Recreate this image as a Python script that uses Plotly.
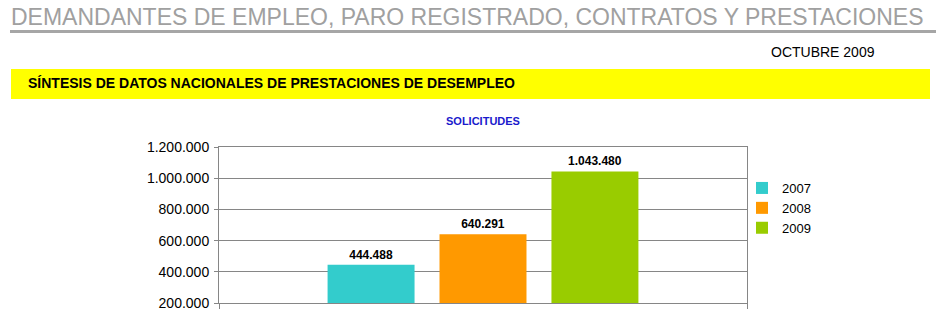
import plotly.graph_objects as go

# ---- data ----
category = ["SOLICITUDES"]
years = ["2007", "2008", "2009"]
values = [444488, 640291, 1043480]
colors = ["#33CCCC", "#FF9900", "#99CC00"]
y_ticks = [200000, 400000, 600000, 800000, 1000000, 1200000]

W, H = 941, 318
PL, PR, PT, PB = 219, 747, 147, 303  # plot area in pixels


def px(x):
    return (x - PL) / (PR - PL)


def py(y):
    return (PB - y) / (PB - PT)


fig = go.Figure()
for yr, v, c in zip(years, values, colors):
    fig.add_trace(go.Bar(
        x=category, y=[v], name=yr, marker=dict(color=c, line=dict(width=0)),
        texttemplate="%{y:,d}", textposition="outside", cliponaxis=False,
        textfont=dict(family="Liberation Sans, Arial", size=12, color="#000000", weight="bold"),
    ))

GRAY = "#868686"
fig.update_layout(
    width=W, height=H,
    margin=dict(l=PL, r=W - PR, t=PT, b=H - PB, pad=0, autoexpand=False),
    paper_bgcolor="white", plot_bgcolor="white",
    separators=",.",
    barmode="group", bargap=0.364, bargroupgap=0.223,
    font=dict(family="Liberation Sans, Arial", color="#000000"),
    showlegend=True,
    legend=dict(x=px(742), xanchor="left", y=py(173), yanchor="top",
                font=dict(size=13, color="#000000"), bgcolor="rgba(0,0,0,0)",
                itemclick=False, tracegroupgap=0),
    xaxis=dict(showticklabels=False, showgrid=False, showline=True, linecolor=GRAY,
               linewidth=1, mirror=True, ticks="outside", tickson="boundaries",
               ticklen=5, tickcolor=GRAY, zeroline=False),
    yaxis=dict(range=[200000, 1200000], tickvals=y_ticks, tickformat=",d",
               showgrid=True, gridcolor=GRAY, gridwidth=1, showline=True,
               linecolor=GRAY, linewidth=1, mirror=True, ticks="outside",
               ticklen=4, tickcolor=GRAY, zeroline=False,
               tickfont=dict(size=14, color="#000000"), ticklabelstandoff=2),
    shapes=[
        dict(type="rect", xref="paper", yref="paper", x0=px(10), x1=px(936),
             y0=py(33), y1=py(30), fillcolor="#A6A6A6", line=dict(width=0), layer="above"),
        dict(type="rect", xref="paper", yref="paper", x0=px(11), x1=px(930),
             y0=py(99), y1=py(69), fillcolor="#FFFF00", line=dict(width=0), layer="below"),
    ],
    annotations=[
        dict(text="DEMANDANTES DE EMPLEO, PARO REGISTRADO, CONTRATOS Y PRESTACIONES",
             xref="paper", yref="paper", x=px(9), y=py(17), xanchor="left", yanchor="middle",
             showarrow=False,
             font=dict(family="Liberation Sans, DejaVu Sans", size=23, color="#A0A0A0")),
        dict(text="OCTUBRE 2009", xref="paper", yref="paper", x=px(877), y=py(52),
             xanchor="right", yanchor="middle", showarrow=False,
             font=dict(size=14, color="#000000")),
        dict(text="<b>SÍNTESIS DE DATOS NACIONALES DE PRESTACIONES DE DESEMPLEO</b>",
             xref="paper", yref="paper", x=px(26), y=py(83), xanchor="left", yanchor="middle",
             showarrow=False, font=dict(size=14, color="#000000")),
        dict(text="<b>SOLICITUDES</b>", xref="paper", yref="paper", x=px(483), y=py(121),
             xanchor="center", yanchor="middle", showarrow=False,
             font=dict(size=11, color="#1A1ACC")),
    ],
)

fig.write_html("out.html")
